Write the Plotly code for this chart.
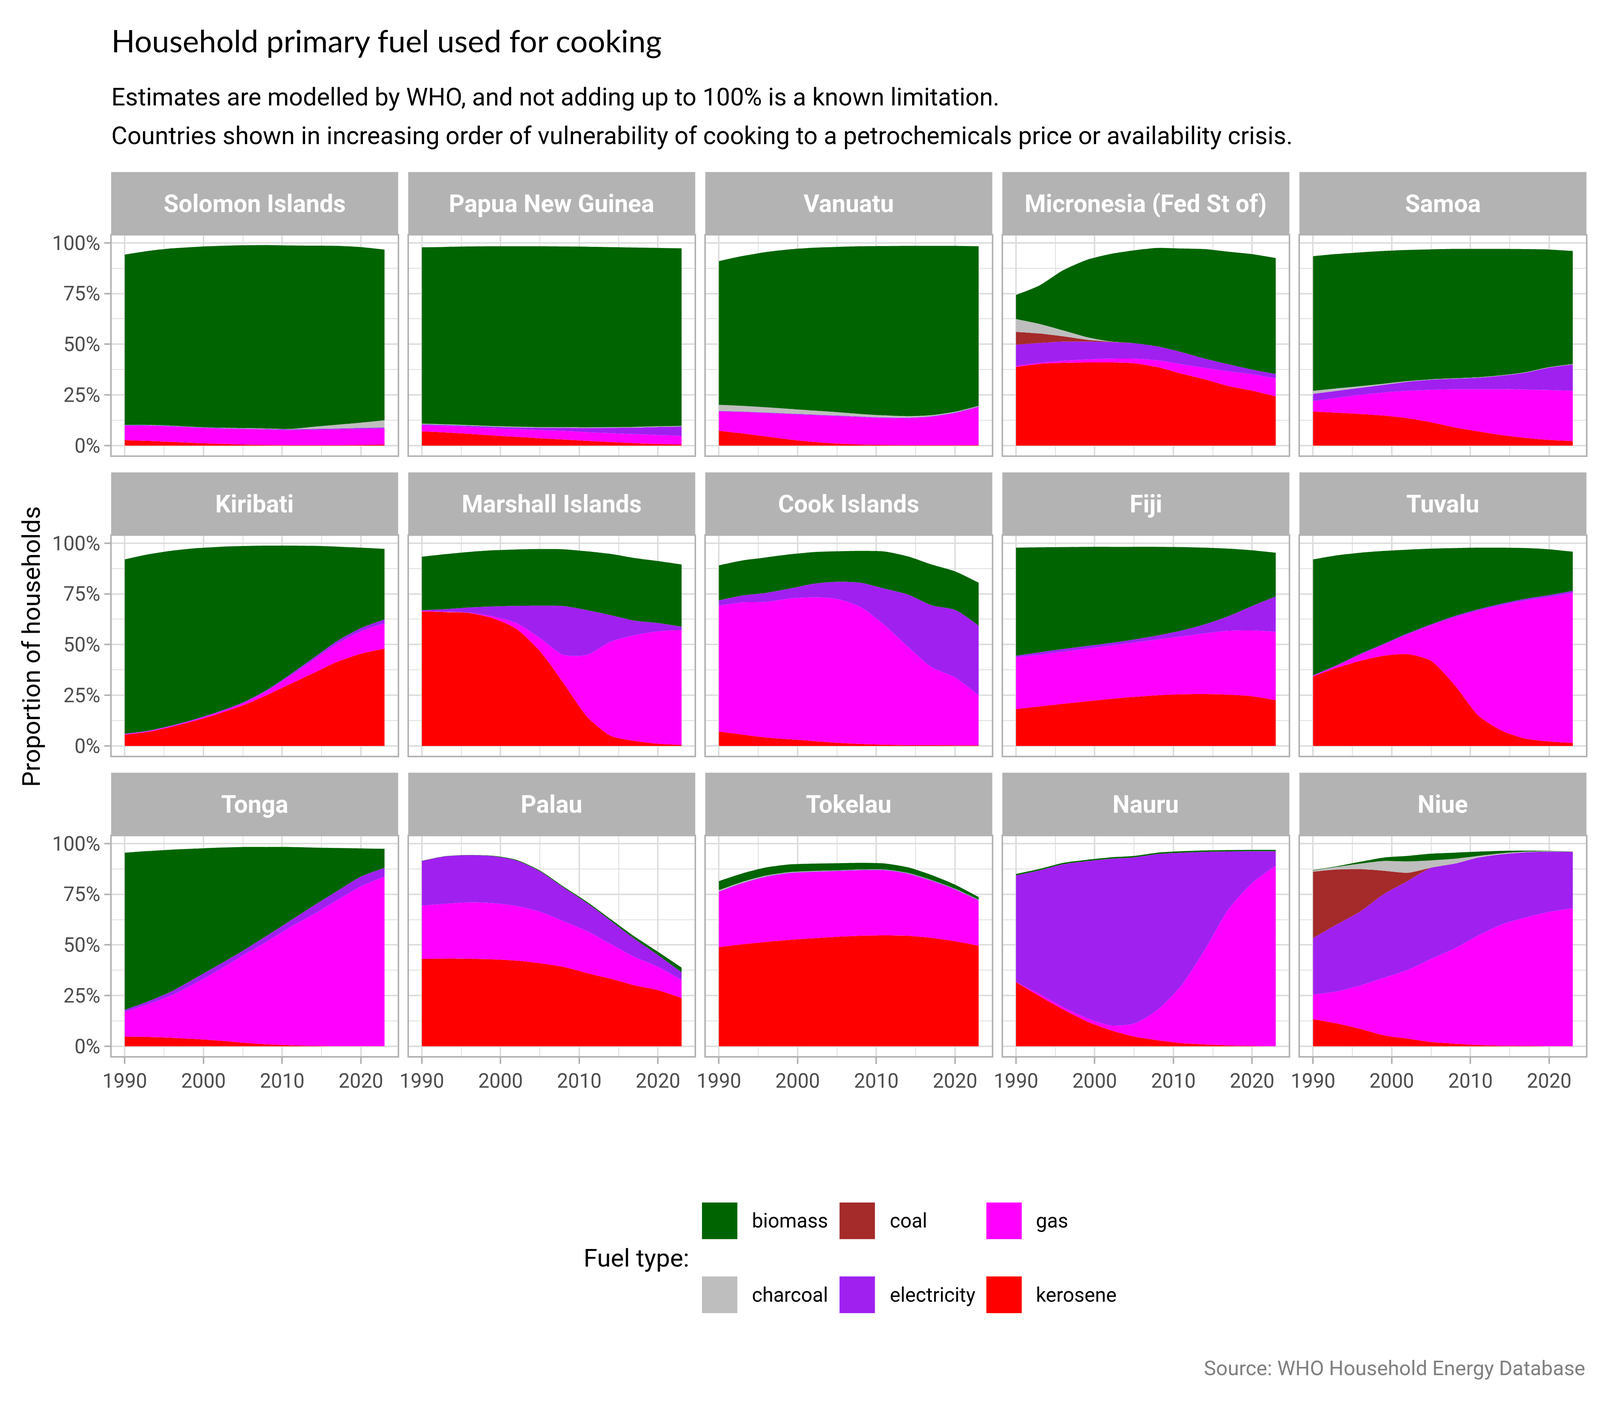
import plotly.graph_objects as go

# ---------------- data (percent of households) ----------------
years = [1990, 1993, 1996, 1999, 2002, 2005, 2008, 2011, 2014, 2017, 2020, 2023]

countries = ["Solomon Islands", "Papua New Guinea", "Vanuatu", "Micronesia (Fed St of)", "Samoa",
             "Kiribati", "Marshall Islands", "Cook Islands", "Fiji", "Tuvalu",
             "Tonga", "Palau", "Tokelau", "Nauru", "Niue"]

kerosene = [
    [2.7, 2.3, 1.8, 1.3, 0.9, 0.5, 0.3, 0.2, 0.2, 0.2, 0.3, 0.5],          # Solomon Islands
    [7.0, 6.5, 5.8, 5.0, 4.3, 3.6, 3.0, 2.3, 1.7, 1.2, 0.8, 0.5],          # Papua New Guinea
    [7.3, 6.0, 4.5, 3.0, 1.8, 1.0, 0.5, 0.3, 0.2, 0.2, 0.2, 0.2],          # Vanuatu
    [38.8, 40.3, 40.8, 41.0, 41.0, 40.6, 38.7, 35.5, 32.7, 29.4, 27.1, 24.3],  # Micronesia
    [16.8, 16.2, 15.6, 14.8, 13.5, 11.5, 9.0, 7.0, 5.2, 3.8, 2.8, 2.2],    # Samoa
    [5.5, 7.0, 9.5, 12.5, 16.0, 20.0, 25.0, 30.5, 36.0, 41.5, 45.5, 48.0], # Kiribati
    [66.4, 66.0, 65.6, 63.0, 57.8, 46.8, 31.0, 14.4, 5.0, 2.5, 1.1, 0.5],  # Marshall Islands
    [7.1, 5.6, 4.2, 3.3, 2.4, 1.6, 1.0, 0.6, 0.4, 0.4, 0.3, 0.3],          # Cook Islands
    [18.2, 19.5, 20.8, 22.0, 23.2, 24.2, 25.0, 25.5, 25.6, 25.3, 24.5, 22.6],  # Fiji
    [34.3, 38.5, 42.0, 44.5, 45.3, 42.0, 30.0, 15.0, 7.5, 3.6, 2.2, 1.5],  # Tuvalu
    [4.8, 4.6, 4.2, 3.6, 2.8, 1.8, 1.0, 0.5, 0.2, 0.1, 0.1, 0.1],          # Tonga
    [43.1, 43.3, 43.2, 42.9, 42.3, 41.0, 39.2, 36.1, 33.3, 30.1, 27.7, 23.8],  # Palau
    [48.9, 50.3, 51.5, 52.5, 53.3, 54.0, 54.5, 54.7, 54.5, 53.5, 51.8, 49.6],  # Tokelau
    [31.7, 24.7, 18.2, 12.3, 8.0, 4.8, 3.0, 1.6, 0.9, 0.4, 0.2, 0.1],      # Nauru
    [13.4, 11.3, 8.6, 5.4, 3.8, 2.1, 1.3, 0.6, 0.3, 0.2, 0.1, 0.1],        # Niue
]

gas = [
    [7.1, 7.5, 7.6, 7.5, 7.5, 7.6, 7.6, 7.4, 7.6, 7.8, 7.9, 7.9],
    [3.0, 3.2, 3.4, 3.6, 3.8, 4.0, 4.2, 4.3, 4.4, 4.4, 4.4, 4.3],
    [9.5, 10.5, 11.5, 12.5, 13.2, 13.5, 13.5, 13.3, 13.3, 14.0, 15.8, 18.8],
    [0.5, 0.5, 1.0, 1.5, 1.9, 2.3, 3.3, 4.6, 5.6, 7.2, 8.1, 8.8],
    [5.2, 7.3, 9.4, 11.4, 13.5, 16.0, 18.8, 20.8, 22.6, 23.8, 24.6, 24.8],
    [0.3, 0.3, 0.4, 0.5, 0.7, 1.0, 2.0, 4.0, 6.5, 9.0, 11.0, 12.5],
    [0.3, 0.2, 0.1, 0.9, 2.8, 6.4, 13.9, 30.5, 46.4, 52.1, 55.4, 56.6],
    [62.1, 65.2, 66.8, 69.4, 70.9, 70.9, 67.5, 59.1, 48.6, 38.5, 33.5, 24.7],
    [25.6, 25.5, 25.7, 26.0, 26.3, 26.8, 27.5, 28.5, 29.9, 31.5, 32.5, 33.7],
    [0.2, 1.0, 3.0, 5.5, 9.7, 17.5, 33.5, 51.8, 62.0, 68.2, 71.3, 74.0],
    [12.2, 16.2, 21.0, 27.6, 34.9, 43.0, 50.5, 58.2, 64.9, 72.0, 78.8, 83.6],
    [26.3, 27.0, 27.8, 27.7, 26.9, 25.4, 22.5, 20.7, 17.1, 14.0, 11.5, 8.9],
    [27.2, 30.0, 32.0, 32.8, 32.6, 32.3, 32.2, 32.0, 30.5, 28.0, 25.4, 22.2],
    [0.0, 1.1, 1.1, 1.6, 2.3, 6.4, 15.0, 28.4, 46.8, 67.2, 80.3, 89.0],
    [12.1, 15.7, 21.4, 28.4, 33.8, 41.0, 47.0, 54.1, 59.8, 63.3, 66.2, 68.0],
]

electricity = [
    [0.3, 0.3, 0.3, 0.3, 0.3, 0.3, 0.3, 0.4, 0.4, 0.4, 0.5, 0.5],
    [0.5, 0.5, 0.6, 0.7, 0.9, 1.2, 1.6, 2.1, 2.7, 3.3, 4.0, 4.6],
    [0.3, 0.3, 0.3, 0.3, 0.3, 0.3, 0.3, 0.3, 0.3, 0.3, 0.3, 0.3],
    [10.5, 9.8, 9.5, 8.8, 8.2, 7.6, 6.9, 6.0, 4.6, 3.5, 2.3, 2.2],
    [3.5, 3.5, 3.5, 3.8, 4.5, 5.0, 5.2, 5.7, 6.7, 8.4, 11.1, 13.0],
    [0.2, 0.2, 0.2, 0.3, 0.3, 0.4, 0.5, 0.7, 1.0, 1.3, 1.6, 1.9],
    [0.2, 1.3, 2.6, 4.9, 8.5, 16.0, 24.1, 22.1, 13.1, 7.2, 4.1, 1.7],
    [2.6, 3.4, 4.5, 4.9, 6.7, 8.5, 12.0, 17.9, 25.7, 30.5, 33.3, 34.3],
    [0.7, 1.2, 1.3, 1.3, 1.3, 1.5, 2.0, 2.9, 4.5, 7.2, 12.0, 17.4],
    [0.3, 0.3, 0.4, 0.4, 0.5, 0.5, 0.6, 0.6, 0.7, 0.8, 0.9, 1.0],
    [1.0, 1.4, 2.0, 2.5, 2.6, 2.3, 2.9, 3.2, 4.3, 4.5, 4.8, 4.3],
    [22.0, 23.4, 23.3, 23.2, 22.5, 19.9, 16.6, 13.8, 11.5, 8.9, 5.8, 3.8],
    [0.3, 0.3, 0.3, 0.3, 0.3, 0.3, 0.3, 0.3, 0.3, 0.3, 0.3, 0.3],
    [52.6, 61.0, 70.5, 77.4, 82.2, 82.0, 76.8, 65.5, 48.2, 28.5, 15.7, 7.1],
    [27.9, 33.1, 36.5, 41.3, 43.9, 45.0, 41.8, 38.4, 34.6, 32.2, 29.7, 27.8],
]

coal = [
    [0] * 12,
    [0] * 12,
    [0] * 12,
    [6.3, 4.7, 2.6, 0.9, 0.2, 0, 0, 0, 0, 0, 0, 0],
    [0] * 12,
    [0] * 12,
    [0] * 12,
    [0] * 12,
    [0] * 12,
    [0] * 12,
    [0] * 12,
    [0] * 12,
    [0] * 12,
    [0] * 12,
    [32.7, 27.1, 20.9, 11.5, 4.1, 0, 0, 0, 0, 0, 0, 0],
]

charcoal = [
    [0.1, 0.1, 0.1, 0.1, 0.1, 0.2, 0.2, 0.2, 1.1, 1.9, 2.6, 3.6],
    [0.3, 0.3, 0.3, 0.3, 0.3, 0.3, 0.3, 0.3, 0.3, 0.3, 0.3, 0.3],
    [3.0, 2.8, 2.6, 2.3, 2.0, 1.7, 1.3, 1.0, 0.7, 0.5, 0.4, 0.3],
    [6.3, 4.7, 2.9, 1.3, 0.1, 0, 0, 0, 0, 0, 0, 0],
    [1.5, 1.2, 0.8, 0.5, 0.3, 0.2, 0.2, 0.2, 0.2, 0.2, 0.2, 0.2],
    [0] * 12,
    [0] * 12,
    [0] * 12,
    [0] * 12,
    [0] * 12,
    [0] * 12,
    [0] * 12,
    [0.6, 0.5, 0.4, 0.3, 0.3, 0.2, 0.2, 0.2, 0.2, 0.2, 0.2, 0.2],
    [0] * 12,
    [0.6, 1.3, 2.7, 4.8, 5.6, 3.6, 2.4, 0.8, 0.5, 0.3, 0.2, 0.0],
]

biomass = [
    [84.0, 85.8, 87.5, 88.8, 89.7, 90.2, 90.5, 90.5, 89.3, 88.2, 86.6, 84.2],
    [87.0, 87.5, 88.1, 88.7, 89.0, 89.2, 89.1, 89.1, 88.8, 88.5, 88.0, 87.6],
    [70.9, 73.9, 76.6, 78.7, 80.3, 81.5, 82.7, 83.5, 84.0, 83.5, 81.8, 78.7],
    [11.9, 19.0, 29.7, 38.1, 43.1, 45.8, 48.6, 51.1, 54.0, 55.5, 56.9, 57.2],
    [66.4, 66.3, 66.0, 65.5, 64.7, 64.1, 63.8, 63.3, 62.3, 60.7, 58.0, 55.8],
    [86.0, 87.0, 86.2, 84.2, 81.2, 77.2, 71.3, 63.6, 55.2, 46.5, 39.7, 34.8],
    [26.4, 27.1, 27.4, 27.7, 27.8, 27.9, 28.0, 29.0, 30.2, 30.9, 30.6, 30.7],
    [17.3, 17.3, 17.5, 16.9, 15.6, 15.0, 15.7, 18.3, 18.8, 20.1, 19.0, 21.2],
    [53.3, 51.8, 50.3, 48.9, 47.4, 45.7, 43.7, 41.2, 37.8, 33.3, 27.5, 21.6],
    [57.2, 54.2, 49.9, 45.8, 41.3, 37.3, 33.5, 30.4, 27.6, 25.0, 22.6, 19.3],
    [77.5, 74.1, 69.8, 63.8, 57.7, 51.2, 43.9, 36.4, 28.6, 21.2, 13.9, 9.4],
    [0.1, 0.1, 0.1, 0.2, 0.3, 0.4, 0.5, 0.6, 0.8, 1.2, 1.6, 2.3],
    [4.5, 4.2, 4.0, 3.8, 3.6, 3.5, 3.3, 3.0, 2.8, 2.5, 2.0, 1.3],
    [0.7, 0.7, 0.7, 0.7, 0.7, 0.7, 0.7, 0.7, 0.7, 0.7, 0.7, 0.7],
    [0.2, 0.3, 0.9, 1.7, 2.7, 3.3, 3.0, 2.1, 1.2, 0.5, 0.2, 0.1],
]

stack_order = ["kerosene", "gas", "electricity", "coal", "charcoal", "biomass"]
fuel_values = {"kerosene": kerosene, "gas": gas, "electricity": electricity,
               "coal": coal, "charcoal": charcoal, "biomass": biomass}
fuel_colors = {"biomass": "#006400", "charcoal": "#BEBEBE", "coal": "#A52A2A",
               "electricity": "#A020F0", "gas": "#FF00FF", "kerosene": "#FF0000"}
legend_columns = [["biomass", "charcoal"], ["coal", "electricity"], ["gas", "kerosene"]]

x_ticks = [1990, 2000, 2010, 2020]
x_minor = [1995, 2005, 2015]
y_ticks = [0, 25, 50, 75, 100]
y_ticklabels = ["0%", "25%", "50%", "75%", "100%"]
y_minor = [12.5, 37.5, 62.5, 87.5]

# ---------------- layout geometry (reference pixels) ----------------
W, H = 6000, 3600
S = 0.707            # reference pixel -> CSS pixel for fonts / strokes
COL_LEFT0, COL_STEP, PANEL_W = 376, 1125, 1082
STRIP_TOP0, ROW_STEP, STRIP_H, PANEL_H = 426, 775.5, 164, 568
BORDER = "#B3B3B3"
GRID = "#DEDEDE"
TICKFONT = dict(family="Roboto", size=72 * S, color="#4D4D4D")


def px(x):
    return x / W


def py(y):
    return 1 - y / H


fig = go.Figure()
shapes = []
annotations = []

for i, country in enumerate(countries):
    r, c = divmod(i, 5)
    sfx = "" if i == 0 else str(i + 1)
    for f in stack_order:
        fig.add_trace(go.Scatter(
            x=years, y=fuel_values[f][i], xaxis="x" + sfx, yaxis="y" + sfx,
            stackgroup="g%d" % i, mode="none", fillcolor=fuel_colors[f],
            line=dict(shape="spline", smoothing=0.7),
            name=f, showlegend=False, hoverinfo="skip"))

    left = COL_LEFT0 + c * COL_STEP
    right = left + PANEL_W
    stop = STRIP_TOP0 + r * ROW_STEP
    ptop = stop + STRIP_H
    pbot = ptop + PANEL_H

    fig.layout["xaxis" + sfx] = dict(
        domain=[px(left), px(right)], anchor="y" + sfx, range=[1988.35, 2024.65],
        tickmode="array", tickvals=x_ticks, ticktext=[str(v) for v in x_ticks],
        showgrid=True, gridcolor=GRID, gridwidth=5 * S,
        minor=dict(tickmode="array", tickvals=x_minor, showgrid=True, gridcolor=GRID,
                   gridwidth=3 * S, ticks=""),
        showline=True, mirror=True, linecolor=BORDER, linewidth=5 * S, zeroline=False,
        ticks="outside" if r == 2 else "", ticklen=22 * S, tickwidth=5 * S, tickcolor=BORDER,
        showticklabels=(r == 2), tickfont=TICKFONT, fixedrange=True)
    fig.layout["yaxis" + sfx] = dict(
        domain=[py(pbot), py(ptop)], anchor="x" + sfx, range=[-4.9, 103.6],
        tickmode="array", tickvals=y_ticks, ticktext=y_ticklabels,
        showgrid=True, gridcolor=GRID, gridwidth=5 * S,
        minor=dict(tickmode="array", tickvals=y_minor, showgrid=True, gridcolor=GRID,
                   gridwidth=3 * S, ticks=""),
        showline=True, mirror=True, linecolor=BORDER, linewidth=5 * S, zeroline=False,
        ticks="outside" if c == 0 else "", ticklen=22 * S, tickwidth=5 * S, tickcolor=BORDER,
        showticklabels=(c == 0), tickfont=TICKFONT, fixedrange=True)

    # facet strip
    shapes.append(dict(type="rect", xref="paper", yref="paper",
                       x0=px(left - 2.5), x1=px(right + 2.5), y0=py(ptop), y1=py(stop),
                       fillcolor=BORDER, line=dict(width=0), layer="below"))
    annotations.append(dict(text=country, xref="paper", yref="paper",
                            x=px((left + right) / 2), y=py(stop + STRIP_H / 2),
                            xanchor="center", yanchor="middle", showarrow=False,
                            font=dict(family="Roboto", size=88 * S, color="white", weight="bold")))

# ---------------- titles ----------------
annotations.append(dict(text="Household primary fuel used for cooking", xref="paper", yref="paper",
                        x=px(372), y=py(86), xanchor="left", yanchor="middle", showarrow=False,
                        font=dict(family="Lato", size=112 * S, color="black")))
annotations.append(dict(text="Estimates are modelled by WHO, and not adding up to 100% is a known limitation.",
                        xref="paper", yref="paper", x=px(372), y=py(232), xanchor="left", yanchor="middle",
                        showarrow=False, font=dict(family="Roboto", size=89 * S, color="black")))
annotations.append(dict(text="Countries shown in increasing order of vulnerability of cooking to a petrochemicals price or availability crisis.",
                        xref="paper", yref="paper", x=px(372), y=py(332), xanchor="left", yanchor="middle",
                        showarrow=False, font=dict(family="Roboto", size=89 * S, color="black")))
annotations.append(dict(text="Proportion of households", xref="paper", yref="paper",
                        x=px(72), y=py(1651), xanchor="center", yanchor="middle", textangle=-90,
                        showarrow=False, font=dict(family="Roboto", size=90 * S, color="black")))
annotations.append(dict(text="Source: WHO Household Energy Database", xref="paper", yref="paper",
                        x=px(5958), y=py(3514), xanchor="right", yanchor="middle", showarrow=False,
                        font=dict(family="Roboto", size=74 * S, color="#808080")))

# ---------------- legend ----------------
annotations.append(dict(text="Fuel type:", xref="paper", yref="paper", x=px(2160), y=py(3230),
                        xanchor="left", yanchor="middle", showarrow=False,
                        font=dict(family="Roboto", size=90 * S, color="black")))
key_lefts = [2611, 3132, 3688]
label_lefts = [2797, 3320, 3873]
row_centres = [3134, 3325]
KEY_W = 134          # key width in reference pixels
KEY_H = 134 * S      # square on screen (vertical paper scale ~ 1 css px per reference px)
for ci, col in enumerate(legend_columns):
    for ri, f in enumerate(col):
        shapes.append(dict(type="rect", xref="paper", yref="paper",
                           x0=px(key_lefts[ci]), x1=px(key_lefts[ci] + KEY_W),
                           y0=py(row_centres[ri] + KEY_H / 2), y1=py(row_centres[ri] - KEY_H / 2),
                           fillcolor=fuel_colors[f], line=dict(width=0)))
        annotations.append(dict(text=f, xref="paper", yref="paper",
                                x=px(label_lefts[ci]), y=py(row_centres[ri]),
                                xanchor="left", yanchor="middle", showarrow=False,
                                font=dict(family="Roboto", size=72 * S, color="black")))

fig.update_layout(
    autosize=True, margin=dict(l=0, r=0, t=0, b=0),
    paper_bgcolor="white", plot_bgcolor="white",
    shapes=shapes, annotations=annotations, showlegend=False,
    font=dict(family="Roboto"))

fig.write_html("out.html")
